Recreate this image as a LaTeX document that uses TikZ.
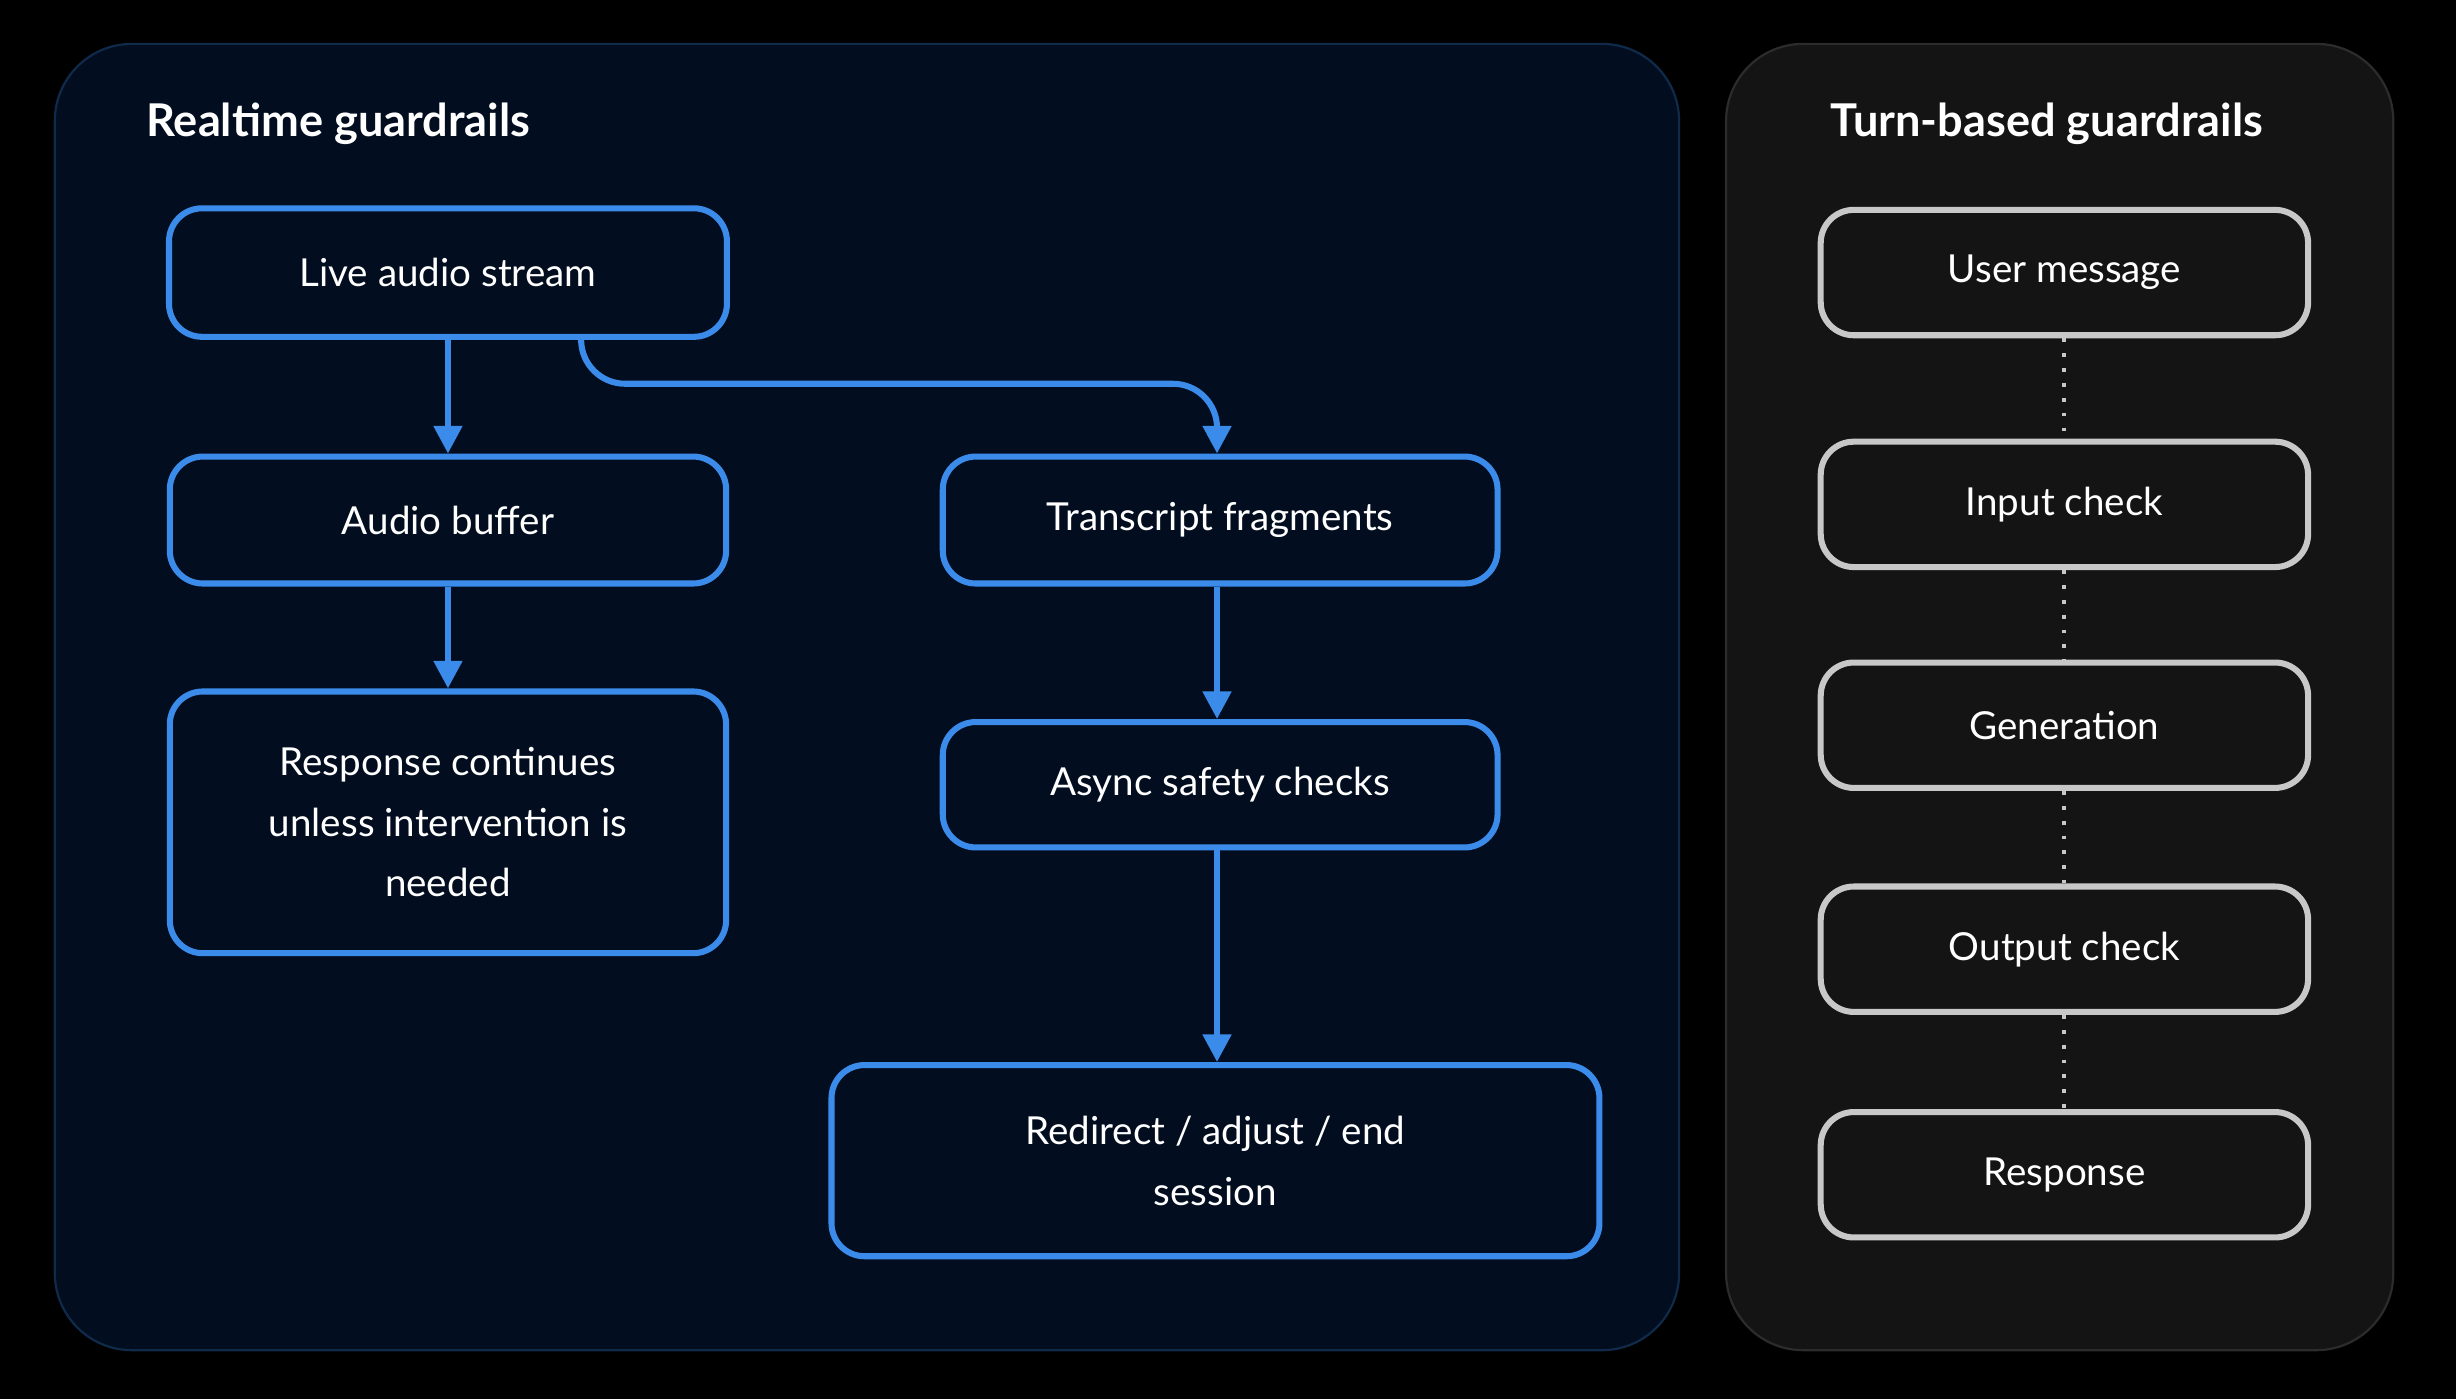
\documentclass[tikz,border=0pt]{standalone}
\usepackage{fontspec}
\setmainfont{Lato}
\usetikzlibrary{arrows.meta}
\definecolor{bluebox}{RGB}{59,139,235}
\definecolor{graybox}{RGB}{200,200,200}
\definecolor{navypanel}{RGB}{2,13,31}
\definecolor{navyedge}{RGB}{16,42,74}
\definecolor{graypanel}{RGB}{20,20,20}
\definecolor{grayedge}{RGB}{44,44,44}
\tikzset{
  rtbox/.style={draw=bluebox, line width=1.1pt, rounded corners=6pt, text=white,
    align=center, inner sep=0pt, font=\fontsize{7}{11}\selectfont},
  tbbox/.style={draw=graybox, line width=1.1pt, rounded corners=6pt, text=white,
    align=center, inner sep=0pt, minimum width=3.11cm, minimum height=0.8cm,
    font=\fontsize{7}{11}\selectfont},
  flow/.style={draw=bluebox, line width=1.1pt, -{Triangle[length=5pt,width=5pt]}},
  dots/.style={draw=graybox, line width=0.7pt, dotted},
  paneltitle/.style={text=white, anchor=west, font=\fontsize{8.2}{10}\selectfont\bfseries}
}
\begin{document}
\begin{tikzpicture}[x=0.01cm, y=-0.01cm]%
\fill[black] (0,0) rectangle (1568,893);%
\useasboundingbox (0,0) rectangle (1568,893);%
% panels
\draw[fill=navypanel, draw=navyedge, rounded corners=14pt] (35,28) rectangle (1072,862);%
\draw[fill=graypanel, draw=grayedge, rounded corners=14pt] (1102,28) rectangle (1528,862);%
\node[paneltitle] (rttitle) at (81,79) {Realtime guardrails};%
\node[paneltitle] (tbtitle) at (1156,79) {Turn-based guardrails};%
% realtime flow
\node[rtbox, minimum width=3.56cm, minimum height=0.82cm] (live) at (286,174) {Live audio stream};%
\node[rtbox, minimum width=3.55cm, minimum height=0.81cm] (buffer) at (286,332) {Audio buffer};%
\node[rtbox, minimum width=3.55cm, minimum height=1.67cm] (cont) at (286,525) {Response continues\\unless intervention is\\needed};%
\node[rtbox, minimum width=3.54cm, minimum height=0.81cm] (frag) at (779,332) {Transcript fragments};%
\node[rtbox, minimum width=3.54cm, minimum height=0.80cm] (async) at (779,501) {Async safety checks};%
\node[rtbox, minimum width=4.90cm, minimum height=1.22cm] (redir) at (776,741) {Redirect / adjust / end\\session};%
\draw[flow] (live.south) -- (buffer.north);%
\draw[flow] (buffer.south) -- (cont.north);%
\draw[flow, rounded corners=8pt] (371,215) -- (371,245) -- (777,245) -- (frag.north -| 777,0);%
\draw[flow] (frag.south -| 777,0) -- (async.north -| 777,0);%
\draw[flow] (async.south -| 777,0) -- (redir.north -| 777,0);%
% turn-based flow
\node[tbbox] (user) at (1318,174) {User message};%
\node[tbbox] (input) at (1318,322) {Input check};%
\node[tbbox] (gen) at (1318,463) {Generation};%
\node[tbbox] (output) at (1318,606) {Output check};%
\node[tbbox] (resp) at (1318,750) {Response};%
\draw[dots] (user) -- (input);%
\draw[dots] (input) -- (gen);%
\draw[dots] (gen) -- (output);%
\draw[dots] (output) -- (resp);%
\end{tikzpicture}
\end{document}
